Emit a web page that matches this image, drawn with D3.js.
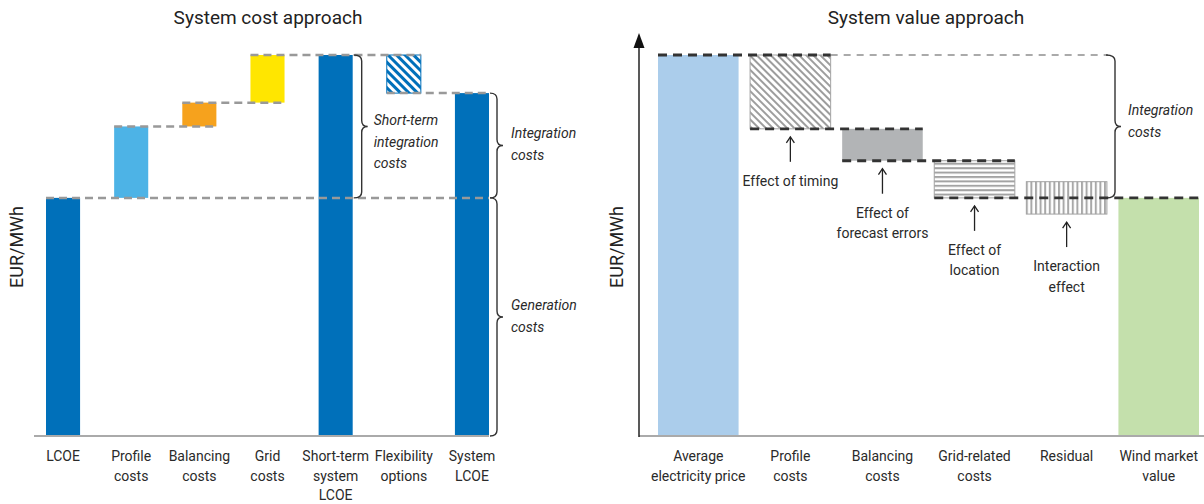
<!DOCTYPE html>
<html><head><meta charset="utf-8">
<script src="https://cdn.jsdelivr.net/npm/d3@7"></script>
<style>
body{margin:0;background:#fff;}
svg text{font-family:Roboto,"Open Sans",sans-serif;fill:#2a2a2a;}
</style></head><body>
<svg id="chart" width="1204" height="504"></svg>
<script>
// ---------- data ----------
const costCategories = [["LCOE"],["Profile","costs"],["Balancing","costs"],["Grid","costs"],["Short-term","system","LCOE"],["Flexibility","options"],["System","LCOE"]];
const costLow  = [0, 50, 65, 70, 0, 72, 0];
const costHigh = [50, 65, 70, 80, 80, 80, 72];

const valueCategories = [["Average","electricity price"],["Profile","costs"],["Balancing","costs"],["Grid-related","costs"],["Residual"],["Wind market","value"]];
const valueLow  = [0, 64.5, 57.8, 50, 46.6, 0];
const valueHigh = [80, 80, 64.5, 57.8, 53.4, 50];
const effectLabels = [["Effect of timing"],["Effect of","forecast errors"],["Effect of","location"],["Interaction","effect"]];

// ---------- styles ----------
const costFills = ["#0070BA","#4DB3E6","#F6A21D","#FFE600","#0070BA","url(#flexHatch)","#0070BA"];
const valueFills = ["#ABCDEB","url(#diagGray)","#B2B4B6","url(#horizGray)","url(#vertGray)","#C4E0AC"];

const svg = d3.select("#chart");
const defs = svg.append("defs");
function stripePattern(id, color, size, stripe, rot){
  const p = defs.append("pattern").attr("id",id).attr("patternUnits","userSpaceOnUse")
    .attr("width",size).attr("height",size);
  if(rot!==null) p.attr("patternTransform",`rotate(${rot})`);
  p.append("rect").attr("width",size).attr("height",size).attr("fill","#fff");
  p.append("rect").attr("width",stripe).attr("height",size).attr("fill",color);
}
stripePattern("flexHatch","#0070BA",6,3,-45);
stripePattern("diagGray","#9d9d9d",5,2,-45);
stripePattern("vertGray","#a8a8a8",4.6,2,null);
stripePattern("horizGray","#a3a3a3",4.4,2,90);

function brace(g, x0, xv, xt, y0, y1, ym){
  const r = 6;
  if(ym===undefined) ym=(y0+y1)/2;
  g.append("path")
   .attr("d",`M${x0},${y0} Q${xv},${y0} ${xv},${y0+r} L${xv},${ym-r} Q${xv},${ym} ${xt},${ym} Q${xv},${ym} ${xv},${ym+r} L${xv},${y1-r} Q${xv},${y1} ${x0},${y1}`)
   .attr("fill","none").attr("stroke","#333").attr("stroke-width",1.4);
}
function multiText(g, x, y, lines, lh, opts={}){
  const t = g.append("text").attr("x",x).attr("y",y)
    .attr("text-anchor",opts.anchor||"middle")
    .style("font-size",(opts.size||14)+"px");
  if(opts.italic) t.style("font-style","italic");
  lines.forEach((l,i)=>t.append("tspan").attr("x",x).attr("dy",i===0?0:lh).text(l));
  return t;
}

// ================= LEFT PANEL =================
const L = svg.append("g");
const xC = d3.scaleBand().domain(d3.range(costCategories.length)).range([46,489]).paddingInner(0.5).paddingOuter(0);
const yC = d3.scaleLinear().domain([0,80]).range([436,55]);

L.append("text").attr("x",268).attr("y",24).attr("text-anchor","middle")
  .style("font-size","19px").style("fill","#222").text("System cost approach");
L.append("text").attr("transform","translate(23,247) rotate(-90)").attr("text-anchor","middle")
  .style("font-size","18px").style("fill","#222").text("EUR/MWh");

L.selectAll("rect.bar").data(d3.range(costCategories.length)).join("rect")
  .attr("x",i=>xC(i)).attr("width",xC.bandwidth())
  .attr("y",i=>yC(costHigh[i])).attr("height",i=>yC(costLow[i])-yC(costHigh[i]))
  .attr("fill",i=>costFills[i])
  .attr("stroke",i=>i===5?"#0070BA":"none").attr("stroke-width",1);

// baseline
L.append("line").attr("x1",34).attr("x2",xC(6)+xC.bandwidth()).attr("y1",yC(0)).attr("y2",yC(0))
  .attr("stroke","#aaa").attr("stroke-width",2);

// connectors
const costLinks = [[0,6,costHigh[0]],[1,2,costHigh[1]],[2,3,costHigh[2]],[3,5,costHigh[3]],[5,6,costLow[5]]];
L.selectAll("line.link").data(costLinks).join("line")
  .attr("x1",d=>xC(d[0])).attr("x2",d=>xC(d[1])+xC.bandwidth())
  .attr("y1",d=>yC(d[2])).attr("y2",d=>yC(d[2]))
  .attr("stroke","#999").attr("stroke-width",2.5).attr("stroke-dasharray","8,5");

// category labels
costCategories.forEach((c,i)=>multiText(L, xC(i)+xC.bandwidth()/2, 461, c, 19.5, {size:14}));

// braces
const bx = xC(4)+xC.bandwidth();
brace(L, bx+1, bx+9, bx+15, yC(80), yC(50));
multiText(L, bx+21, 125, ["Short-term","integration","costs"], 21.5, {anchor:"start",italic:true,size:14});
const bx2 = xC(6)+xC.bandwidth();
brace(L, bx2+1, bx2+8, bx2+14, yC(costHigh[6]), yC(50));
multiText(L, bx2+22, 138, ["Integration","costs"], 21.5, {anchor:"start",italic:true,size:14});
brace(L, bx2+1, bx2+8, bx2+14, yC(50), yC(0));
multiText(L, bx2+22, 310, ["Generation","costs"], 21.5, {anchor:"start",italic:true,size:14});

// ================= RIGHT PANEL =================
const R = svg.append("g");
const xV = d3.scaleBand().domain(d3.range(valueCategories.length)).range([658,1199]).paddingInner(0.125).paddingOuter(0);
const yV = d3.scaleLinear().domain([0,80]).range([436,55]);

R.append("text").attr("x",926).attr("y",24).attr("text-anchor","middle")
  .style("font-size","19px").style("fill","#222").text("System value approach");
R.append("text").attr("transform","translate(623,247) rotate(-90)").attr("text-anchor","middle")
  .style("font-size","18px").style("fill","#222").text("EUR/MWh");

R.selectAll("rect.bar").data(d3.range(valueCategories.length)).join("rect")
  .attr("x",i=>xV(i)).attr("width",xV.bandwidth())
  .attr("y",i=>yV(valueHigh[i])).attr("height",i=>yV(valueLow[i])-yV(valueHigh[i]))
  .attr("fill",i=>valueFills[i])
  .attr("stroke",i=>(i>=1&&i<=4&&i!==2)?"#a3a3a3":"none").attr("stroke-width",1);

// axes
R.append("line").attr("x1",639).attr("x2",1204).attr("y1",yV(0)).attr("y2",yV(0))
  .attr("stroke","#aaa").attr("stroke-width",2);
R.append("line").attr("x1",639).attr("x2",639).attr("y1",44).attr("y2",yV(0)+1)
  .attr("stroke","#222").attr("stroke-width",1.5);
R.append("path").attr("d","M639,33 L644.5,48 L633.5,48 Z").attr("fill","#111");

// connectors
R.append("line").attr("x1",xV(1)+xV.bandwidth()).attr("x2",1108).attr("y1",yV(80)).attr("y2",yV(80))
  .attr("stroke","#aaa").attr("stroke-width",2).attr("stroke-dasharray","7,6");
const valueLinks = [[0,1,valueHigh[0]],[1,2,valueLow[1]],[2,3,valueLow[2]],[3,5,valueLow[3]]];
R.selectAll("line.link").data(valueLinks).join("line")
  .attr("x1",d=>xV(d[0])).attr("x2",d=>xV(d[1])+xV.bandwidth())
  .attr("y1",d=>yV(d[2])).attr("y2",d=>yV(d[2]))
  .attr("stroke","#333").attr("stroke-width",2.8).attr("stroke-dasharray","9,6");

// brace
brace(R, 1106, 1115, 1121, yV(80), yV(50));
multiText(R, 1128, 115, ["Integration","costs"], 22, {anchor:"start",italic:true,size:14});

// effect arrows
effectLabels.forEach((lab,k)=>{
  const i = k+1;
  const cx = xV(i)+xV.bandwidth()/2;
  const tip = yV(valueLow[i])+8, tail = tip+25;
  R.append("line").attr("x1",cx).attr("x2",cx).attr("y1",tip).attr("y2",tail)
    .attr("stroke","#222").attr("stroke-width",1.3);
  R.append("path").attr("d",`M${cx-4},${tip+6} L${cx},${tip} L${cx+4},${tip+6}`)
    .attr("fill","none").attr("stroke","#222").attr("stroke-width",1.3);
  multiText(R, cx, tail+24, lab, 20.5, {size:14});
});

valueCategories.forEach((c,i)=>multiText(R, xV(i)+xV.bandwidth()/2, 461, c, 19.5, {size:14}));
</script>
</body></html>
